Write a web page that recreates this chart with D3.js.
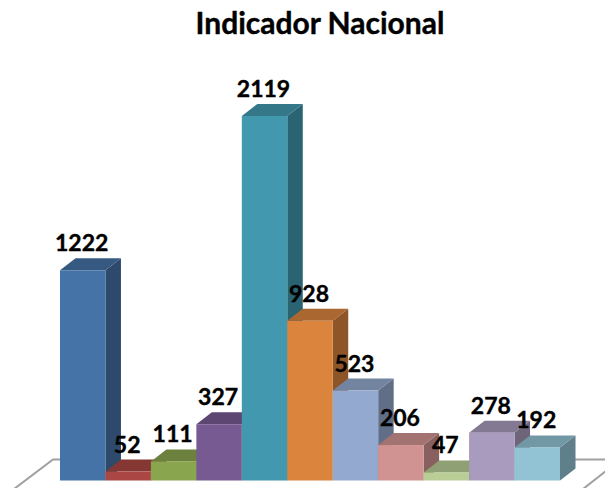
<!DOCTYPE html>
<html>
<head>
<meta charset="utf-8">
<script src="https://cdn.jsdelivr.net/npm/d3@7/dist/d3.min.js"></script>
<style>
  html, body { margin: 0; padding: 0; background: #fff; }
  svg { display: block; }
  text { font-family: Lato, "Open Sans", sans-serif; font-weight: 700; fill: #000; stroke: #000; stroke-width: 0.4; }
</style>
</head>
<body>
<div id="graphic"></div>
<script>
var title = "Indicador Nacional";
var indices = [0, 1, 2, 3, 4, 5, 6, 7, 8, 9, 10];
var values = [1222, 52, 111, 327, 2119, 928, 523, 206, 47, 278, 192];
var colors = ["#4572a7", "#aa4643", "#89a54e", "#775a92", "#4198af", "#db843d", "#93a9cf", "#d19392", "#b9cd96", "#a99bbd", "#92c3d4"];

var width = 605, height = 488;
var depthX = 15.5, depthY = 12;

var x = d3.scaleBand().domain(indices).range([60, 560]);
var y = d3.scaleLinear().domain([0, d3.max(values)]).range([480.5, 116]);

var svg = d3.select("#graphic").append("svg")
  .attr("width", width)
  .attr("height", height);

// floor lines behind the bars
var floor = [
  [[14, 489], [53, 459.5], [70, 459.5]],
  [[560, 459.5], [606, 459.5]],
  [[583, 489], [606, 471]]
];
svg.append("g").selectAll("path")
  .data(floor)
  .enter().append("path")
    .attr("d", d3.line())
    .attr("fill", "none")
    .attr("stroke", "#a0a0a0")
    .attr("stroke-width", 2);

function shade(c, k) {
  var r = d3.rgb(c);
  return d3.rgb(r.r * k, r.g * k, r.b * k).formatHex();
}

// left to right so each bar sits over the side of the one before it
var bar = svg.append("g").selectAll("g")
  .data(indices)
  .enter().append("g");

// side face
bar.append("path")
  .attr("fill", function(i) { return shade(colors[i], 0.65); })
  .attr("d", function(i) {
    var r = x(i) + x.bandwidth();
    return d3.line()([[r, y(values[i])], [r + depthX, y(values[i]) - depthY], [r + depthX, y(0) - depthY], [r, y(0)]]) + "Z";
  });

// top face
bar.append("path")
  .attr("fill", function(i) { return shade(colors[i], 0.78); })
  .attr("d", function(i) {
    var l = x(i), r = l + x.bandwidth(), t = y(values[i]);
    return d3.line()([[l, t], [l + depthX, t - depthY], [r + depthX, t - depthY], [r, t]]) + "Z";
  });

// front face
bar.append("rect")
  .attr("x", function(i) { return x(i); })
  .attr("y", function(i) { return y(values[i]); })
  .attr("width", x.bandwidth())
  .attr("height", function(i) { return y(0) - y(values[i]); })
  .attr("fill", function(i) { return colors[i]; });

// labels on top of everything
svg.append("g").selectAll("text")
  .data(indices)
  .enter().append("text")
    .attr("x", function(i) { return x(i) + x.bandwidth() / 2 - 1; })
    .attr("y", function(i) { return y(values[i]) - 19; })
    .attr("text-anchor", "middle")
    .attr("font-size", 23)
    .text(function(i) { return values[i]; });

svg.append("text")
  .attr("x", 320)
  .attr("y", 34)
  .attr("text-anchor", "middle")
  .attr("font-size", 30)
  .text(title);
</script>
</body>
</html>
